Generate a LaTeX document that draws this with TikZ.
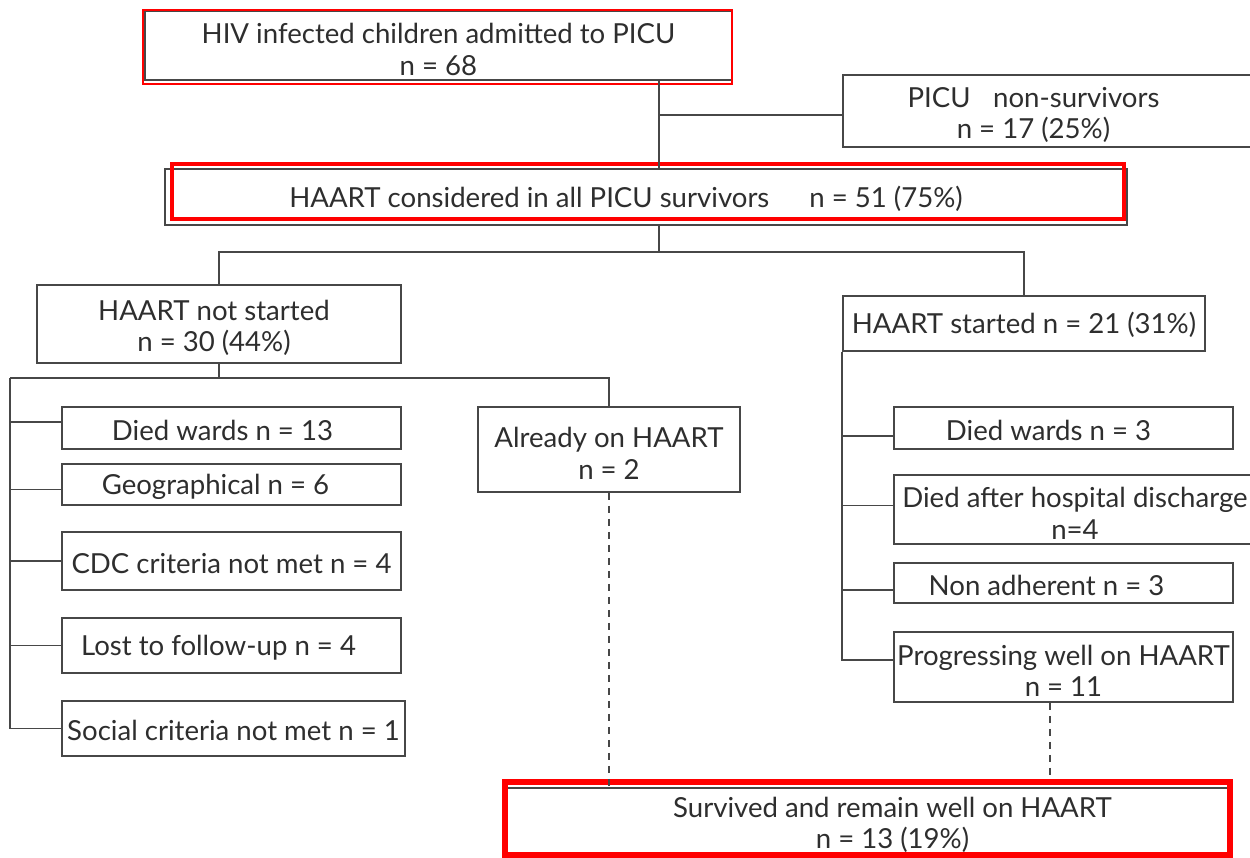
\documentclass[tikz,border=0pt]{standalone}
\usepackage{fontspec}
\setmainfont{Lato}
\usetikzlibrary{calc}
\newcommand{\pbox}[6][]{\node[box,#1,minimum width={(#4-#2)*0.02cm},minimum height={(#5-#3)*0.02cm}] (#6) at ({(#2+#4)/2},{(#3+#5)/2})}
\newcommand{\rbox}[6][]{\node[redbox,#1,minimum width={(#4-#2)*0.02cm},minimum height={(#5-#3)*0.02cm}] (#6) at ({(#2+#4)/2},{(#3+#5)/2}) {};}
\newcommand{\sh}[1]{\hspace*{#1}}
\newcommand{\tl}{\rule{0pt}{16pt}}
\tikzset{
  box/.style={draw=black!72, line width=1.1pt, inner sep=0pt, align=center,
    font=\fontsize{15.7}{18}\selectfont, text=black!82},
  one/.style={execute at begin node={\rule{0pt}{14pt}}},
  redbox/.style={draw=red, inner sep=0pt, fill=none},
  conn/.style={draw=black!72, line width=1.1pt},
  dconn/.style={draw=black!72, line width=1.1pt, dash pattern=on 0.14cm off 0.12cm}
}
\begin{document}
\begin{tikzpicture}[x=0.02cm,y=-0.02cm]
\clip (0,0) rectangle (1250,858);
\fill[white] (0,0) rectangle (1250,858);
% boxes
\pbox{145}{11}{732}{80}{top}{\tl HIV infected children admitted to PICU\\n = 68};
\pbox{843}{75}{1256}{147}{picu}{\tl PICU\hspace{0.45cm}non-survivors\sh{0.64cm}\\n = 17 (25\%)\sh{0.64cm}};
\pbox[one]{165}{169}{1127}{225}{cons}{HAART considered in all PICU survivors\hspace{0.8cm}n = 51 (75\%)\sh{0.8cm}};
\pbox{37}{285}{401}{363}{nots}{\tl HAART not started\sh{0.2cm}\\n = 30 (44\%)\sh{0.2cm}};
\pbox[one]{843}{296}{1205}{351}{start}{HAART started n = 21 (31\%)};
\pbox[one]{62}{407}{401}{449}{dwl}{Died wards n = 13\sh{0.36cm}};
\pbox[one]{62}{464}{401}{505}{geo}{Geographical n = 6\sh{0.64cm}};
\pbox[one]{62}{532}{401}{590}{cdc}{CDC criteria not met n = 4};
\pbox[one]{62}{618}{401}{673}{lost}{Lost to follow-up n = 4\sh{0.52cm}};
\pbox[one]{62}{701}{405}{756}{soc}{Social criteria not met n = 1};
\pbox{478}{407}{740}{492}{already}{\tl Already on HAART\\n = 2};
\pbox[one]{894}{407}{1233}{449}{dwr}{Died wards n = 3\sh{0.6cm}};
\pbox{894}{475}{1256}{544}{dahd}{\tl Died after hospital discharge\\n=4};
\pbox[one]{894}{563}{1233}{603}{nonad}{Non adherent n = 3\sh{0.68cm}};
\pbox{894}{632}{1233}{702}{prog}{\tl Progressing well on HAART\\n = 11};
\pbox{507}{788}{1230}{862}{surv}{\sh{0.96cm}Survived and remain well on HAART\\\sh{0.96cm}n = 13 (19\%)};
% red overlays
\rbox[line width=1.2pt]{143}{10}{732}{84}{topR}
\rbox[line width=2.8pt]{172}{164}{1124}{219}{consR}
\rbox[line width=3.4pt]{505}{782}{1230}{855}{survR}
% junctions
\coordinate (j1) at (659,115);
\coordinate (j2) at (659,252);
\coordinate (j3) at (219,378);
\coordinate (L) at (10,378);
\coordinate (dd) at (1050,0);
% connectors
\draw[conn] (top.south -| j1) -- (cons.north -| j1);
\draw[conn] (j1) -- (j1 -| picu.west);
\draw[conn] (cons.south -| j2) -- (j2);
\draw[conn] (nots.north) |- (j2) -| (start.north);
\draw[conn] (nots.south) -- (j3);
\draw[conn] (L) -| (already.north);
\draw[conn] (L) |- (soc.west);
\draw[conn] ($(L |- dwl.west)+(0,-6)$) -- ($(dwl.west)+(0,-6)$);
\draw[conn] ($(L |- geo.west)+(0,5)$) -- ($(geo.west)+(0,5)$);
\draw[conn] (L |- cdc.west) -- (cdc.west);
\draw[conn] (L |- lost.west) -- (lost.west);
\draw[conn] (start.south west) |- ($(prog.west)+(0,-7)$);
\draw[conn] ($(start.south west |- dwr.west)+(0,8)$) -- ($(dwr.west)+(0,8)$);
\draw[conn] ($(start.south west |- dahd.west)+(0,-4)$) -- ($(dahd.west)+(0,-4)$);
\draw[conn] ($(start.south west |- nonad.west)+(0,7)$) -- ($(nonad.west)+(0,7)$);
\draw[dconn] (already.south) -- (already.south |- surv.north);
\draw[dconn] (prog.south -| dd) -- ($(surv.north -| dd)+(0,-8)$);
\end{tikzpicture}
\end{document}
